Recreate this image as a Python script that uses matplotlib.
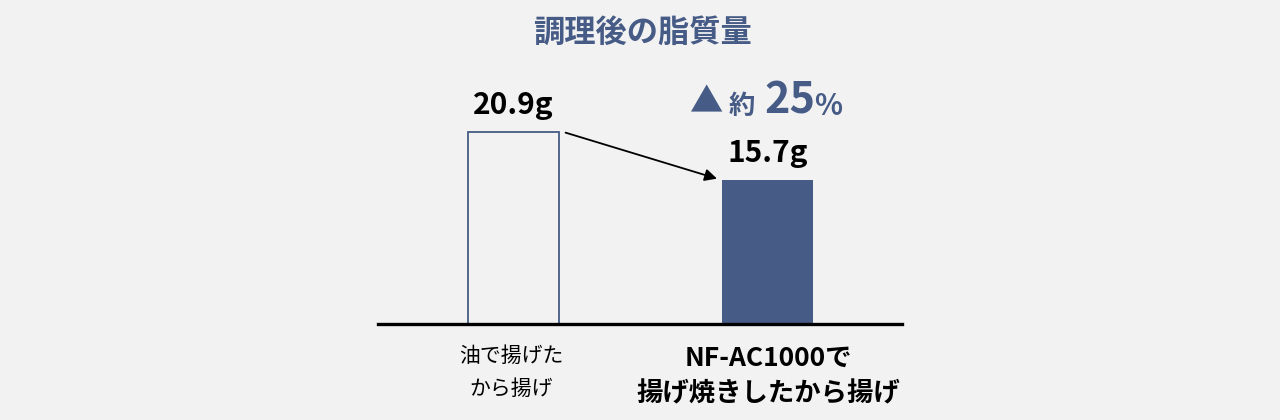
import matplotlib.pyplot as plt

plt.rcParams['font.family'] = ['Noto Sans CJK JP', 'DejaVu Sans']

title = "調理後の脂質量"
categories = ["油で揚げた\nから揚げ", "NF-AC1000で\n揚げ焼きしたから揚げ"]
values = [20.9, 15.7]
value_labels = ["20.9g", "15.7g"]
reduction = "25"

bg = "#f2f2f2"
blue = "#465b85"

fig = plt.figure(figsize=(12.8, 4.2), dpi=100, facecolor=bg)
W, H = 1280, 420


def px(x, y):
    return x / W, 1 - y / H


ax = fig.add_axes([378 / W, 96 / H, 524 / W, 230 / H])
ax.set_facecolor(bg)
ax.set_xlim(-0.532, 1.527)
ax.set_ylim(0, 25)
ax.set_axis_off()

ax.bar(0, values[0], width=0.358, facecolor="none", edgecolor=blue, linewidth=1.3)
ax.bar(1, values[1], width=0.358, color=blue)
ax.axhline(0, color="black", linewidth=2.4, clip_on=False)

for i, (v, lab) in enumerate(zip(values, value_labels)):
    ax.text(i, v + 2.9, lab, ha="center", va="center", fontsize=21.5,
            fontweight="bold", color="black")

# arrow between the bars
ax.annotate("", xy=(0.80, values[1] + 0.1), xytext=(0.205, values[0] - 0.1),
            arrowprops=dict(arrowstyle="-|>", color="black", lw=1.3,
                            mutation_scale=18, shrinkA=0, shrinkB=0))

fig.text(*px(642, 33), title, ha="center", va="center", fontsize=22.5,
         fontweight="bold", color=blue)

# reduction label
fig.text(*px(690, 103), "▲", ha="left", va="center", fontsize=24, color=blue)
fig.text(*px(729, 106), "約", ha="left", va="center", fontsize=19,
         fontweight="bold", color=blue)
fig.text(*px(764, 101), reduction, ha="left", va="center", fontsize=31,
         fontweight="bold", color=blue)
fig.text(*px(814, 106), "%", ha="left", va="center", fontsize=21,
         fontweight="bold", color=blue)

ax.text(-0.01, -2.3, categories[0], ha="center", va="top", fontsize=15,
        linespacing=1.65, color="black")
ax.text(1, -2.3, categories[1], ha="center", va="top", fontsize=19,
        fontweight="bold", linespacing=1.4, color="black")

fig.savefig("out.png", dpi=100, facecolor=bg)
